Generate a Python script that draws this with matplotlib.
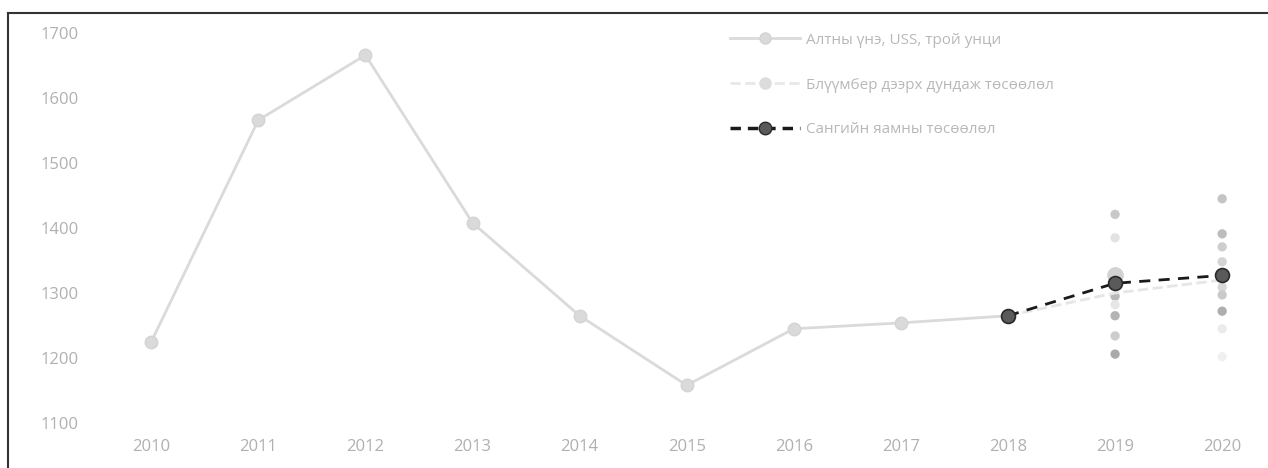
#!/usr/bin/env python3

import matplotlib
matplotlib.use("Agg")
from matplotlib import pyplot as plt
from matplotlib.lines import Line2D

plt.rcParams["font.family"] = ["Open Sans", "DejaVu Sans"]

# gold price history, US$ per troy ounce
years = [2010, 2011, 2012, 2013, 2014, 2015, 2016, 2017, 2018]
gold_price = [1225, 1566, 1666, 1408, 1265, 1158, 1245, 1254, 1265]

# average of Bloomberg forecasts
bbg_years = [2018, 2019, 2020]
bbg_avg = [1265, 1300, 1320]

# Ministry of Finance forecast
mof_years = [2018, 2019, 2020]
mof_fcst = [1265, 1315, 1327]

# individual forecasts (scatter)
fc_2019 = [1421, 1385, 1328, 1295, 1282, 1265, 1234, 1206]
fc_2019_shade = ["#c8c8c8", "#e2e2e2", "#d0d0d0", "#b8b8b8", "#e6e6e6", "#b4b4b4", "#cdcdcd", "#aaaaaa"]
fc_2020 = [1445, 1391, 1371, 1348, 1309, 1297, 1272, 1245, 1202]
fc_2020_shade = ["#c4c4c4", "#bdbdbd", "#cecece", "#d4d4d4", "#d8d8d8", "#cacaca", "#aeaeae", "#ebebeb", "#f0f0f0"]

yticks = [1100, 1200, 1300, 1400, 1500, 1600, 1700]
labels = ["Алтны үнэ, USS, трой унци",
          "Блүүмбер дээрх дундаж төсөөлөл",
          "Сангийн яамны төсөөлөл"]

W, H = 1268, 468
fig = plt.figure(figsize=(W / 100, H / 100), dpi=100)
ax = fig.add_axes([87 / W, (H - 436) / H, (1265 - 87) / W, 416 / H])

ax.plot(years, gold_price, "-o", color="#dadada", lw=2, ms=9, mec="#d4d4d4", zorder=2)
ax.scatter([2019] * len(fc_2019), fc_2019, s=45, c=fc_2019_shade, zorder=3, linewidths=0)
ax.scatter([2020] * len(fc_2020), fc_2020, s=45, c=fc_2020_shade, zorder=3, linewidths=0)
ax.plot(bbg_years, bbg_avg, "--", color="#e6e6e6", lw=2, zorder=3)
ax.plot(2019, 1328, "o", color="#d2d2d2", ms=11, zorder=3)
ax.plot(mof_years, mof_fcst, "--o", color="#1a1a1a", lw=2, dashes=(4, 3),
        ms=10, mfc="#5a5a5a", mec="#2a2a2a", mew=1.2, zorder=4)

ax.set_xlim(2009.4, 2020.4)
ax.set_ylim(1080, 1720)
ax.set_xticks(years + [2019, 2020])
ax.set_yticks(yticks)
ax.tick_params(length=0, colors="#b0b0b0", labelsize=12)
ax.tick_params(axis="x", pad=2)
ax.tick_params(axis="y", pad=6)
for s in ax.spines.values():
    s.set_visible(False)

handles = [
    Line2D([], [], color="#dadada", lw=2, marker="o", ms=8, mec="#d4d4d4"),
    Line2D([], [], color="#e8e8e8", lw=2, ls="--", marker="o", ms=8, mfc="#dcdcdc", mec="#dcdcdc"),
    Line2D([], [], color="#1a1a1a", lw=2.5, ls="--", dashes=(3, 2), marker="o", ms=9,
           mfc="#5a5a5a", mec="#2a2a2a"),
]
leg = ax.legend(handles, labels, loc="upper left", bbox_to_anchor=(716 / W, 1 - 19 / H),
                bbox_transform=fig.transFigure, frameon=False, fontsize=11,
                labelspacing=1.95, handlelength=4.6, handletextpad=0.4)
for t in leg.get_texts():
    t.set_color("#b8b8b8")

# scanned frame border
fig.add_artist(Line2D([8 / W, 1], [1 - 13 / H, 1 - 13 / H], color="#333333", lw=1.5,
                      transform=fig.transFigure))
fig.add_artist(Line2D([8 / W, 8 / W], [0, 1 - 13 / H], color="#333333", lw=1.5,
                      transform=fig.transFigure))

fig.savefig("out.png", dpi=100)
